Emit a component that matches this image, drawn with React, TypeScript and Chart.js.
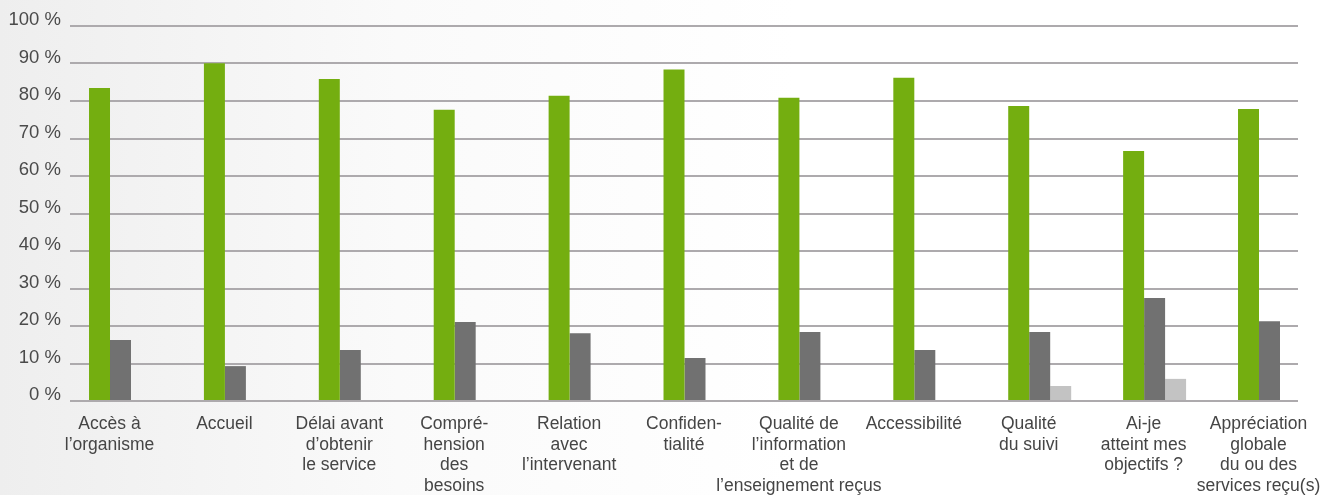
import React, { useEffect, useRef } from "react";
import { Chart, registerables } from "chart.js";

Chart.register(...registerables);

const categories: string[][] = [
  ["Accès à", "l’organisme"],
  ["Accueil"],
  ["Délai avant", "d’obtenir", "le service"],
  ["Compré-", "hension", "des", "besoins"],
  ["Relation", "avec", "l’intervenant"],
  ["Confiden-", "tialité"],
  ["Qualité de", "l’information", "et de", "l’enseignement reçus"],
  ["Accessibilité"],
  ["Qualité", "du suivi"],
  ["Ai-je", "atteint mes", "objectifs ?"],
  ["Appréciation", "globale", "du ou des", "services reçu(s)"],
];

const seriesGreen = [83.5, 90.1, 85.9, 77.7, 81.4, 88.4, 80.9, 86.2, 78.7, 66.7, 77.9];
const seriesDark = [16.3, 9.3, 13.6, 21.1, 18.1, 11.5, 18.4, 13.6, 18.4, 27.5, 21.3];
const seriesLight = [0, 0, 0, 0, 0, 0, 0, 0, 4.0, 5.9, 0];

const yTicks = [0, 10, 20, 30, 40, 50, 60, 70, 80, 90, 100];

const FONT = "'Liberation Sans', Arial, Helvetica, sans-serif";

export default function App() {
  const ref = useRef<HTMLCanvasElement | null>(null);

  useEffect(() => {
    if (!ref.current) return;
    const toPoints = (arr: number[]) => arr.map((v, i) => ({ x: i, y: v }));
    const chart = new Chart(ref.current, {
      type: "bar",
      data: {
        datasets: [
          { label: "A", data: toPoints(seriesGreen), backgroundColor: "#74ae10" },
          { label: "B", data: toPoints(seriesDark), backgroundColor: "#717171" },
          { label: "C", data: toPoints(seriesLight), backgroundColor: "#c3c3c3" },
        ],
      },
      options: {
        animation: false,
        responsive: false,
        devicePixelRatio: 1,
        layout: { padding: { left: 0, right: 27, top: 26, bottom: 0 } },
        plugins: { legend: { display: false }, tooltip: { enabled: false } },
        datasets: {
          bar: { categoryPercentage: 0.548, barPercentage: 1.0 },
        },
        scales: {
          x: {
            type: "linear",
            offset: false,
            min: -0.4395,
            max: 10.248,
            grid: { display: false, drawTicks: false, offset: false },
            border: { display: false },
            afterBuildTicks: (axis: any) => {
              axis.ticks = categories.map((_, i) => ({ value: i }));
            },
            afterFit: (axis: any) => {
              axis.height = 94;
              axis.paddingLeft = 0;
              axis.paddingRight = 0;
            },
            ticks: {
              autoSkip: false,
              maxRotation: 0,
              minRotation: 0,
              padding: 13,
              labelOffset: -11,
              color: "#454545",
              font: { family: FONT, size: 17.5, lineHeight: 1.18 },
              callback: (v: any) => {
                const i = Math.round(Number(v));
                return categories[i] ?? "";
              },
            },
          },
          y: {
            type: "linear",
            min: 0,
            max: 100,
            grid: { color: "#adaaad", lineWidth: 2, drawTicks: false },
            border: { display: false },
            afterBuildTicks: (axis: any) => {
              axis.ticks = yTicks.map((v) => ({ value: v }));
            },
            afterFit: (axis: any) => {
              axis.width = 70;
              axis.paddingTop = 0;
              axis.paddingBottom = 0;
            },
            ticks: {
              padding: 9,
              labelOffset: -6,
              color: "#4a4a4a",
              font: { family: FONT, size: 18.5 },
              callback: (v: any) => `${v} %`,
            },
          },
        },
      },
    });
    return () => chart.destroy();
  }, []);

  return (
    <div
      style={{
        position: "fixed",
        left: 0,
        top: 0,
        width: 1325,
        height: 495,
        background: "linear-gradient(to right, #eeeeee 0%, #fafafa 30%, #ffffff 60%)",
      }}
    >
      <canvas ref={ref} width={1325} height={495} style={{ width: 1325, height: 495, display: "block" }} />
    </div>
  );
}
